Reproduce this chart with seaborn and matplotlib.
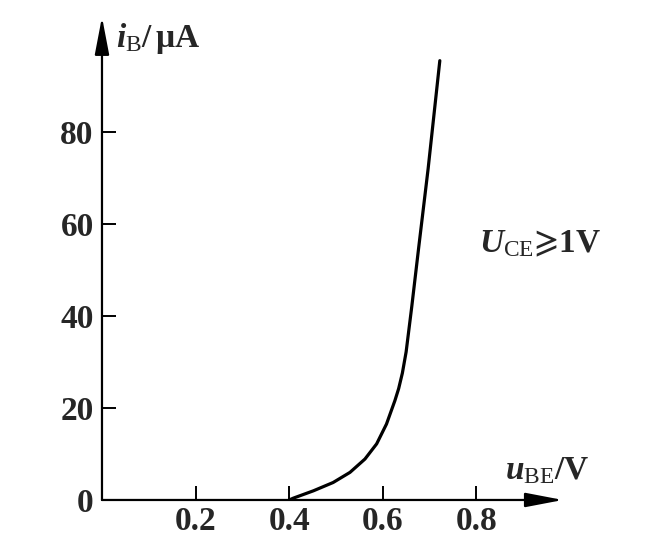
import matplotlib

matplotlib.use("Agg")
import matplotlib.pyplot as plt
import pandas as pd
import seaborn as sns

# input characteristic of the transistor
u_be = [0.400, 0.409, 0.452, 0.494, 0.530, 0.562, 0.587, 0.608, 0.626, 0.634, 0.642, 0.650, 0.662, 0.677, 0.697, 0.722]
i_b = [0, 0.4, 2.0, 3.8, 6.0, 8.9, 12.2, 16.5, 21.6, 24.2, 27.6, 32.2, 42, 55, 72, 95.5]

x_ticks = [0.2, 0.4, 0.6, 0.8]
x_tick_labels = ["0.2", "0.4", "0.6", "0.8"]
y_ticks = [0, 20, 40, 60, 80]
y_tick_labels = ["0", "20", "40", "60", "80"]

sns.set_theme(style="white")
plt.rcParams["font.family"] = ["Liberation Serif", "DejaVu Serif"]
plt.rcParams["mathtext.fontset"] = "custom"
plt.rcParams["mathtext.rm"] = "Liberation Serif"
plt.rcParams["mathtext.it"] = "Liberation Serif:italic:bold"
plt.rcParams["mathtext.bf"] = "Liberation Serif:bold"

df = pd.DataFrame({"u_be": u_be, "i_b": i_b})

fig = plt.figure(figsize=(6.67, 5.51), dpi=100)
ax = fig.add_axes([0.1529, 0.0926, 0.691, 0.8766])

sns.lineplot(data=df, x="u_be", y="i_b", color="black", linewidth=2.3, estimator=None, ax=ax)
ax.lines[0].set_solid_joinstyle("round")

ax.set_xlim(0, 0.985)
ax.set_ylim(0, 105)
for s in ax.spines.values():
    s.set_visible(False)

# axes drawn as arrows
arrow = dict(arrowstyle="-|>,head_length=1.15,head_width=0.22", lw=1.6, color="black",
             shrinkA=0, shrinkB=0, mutation_scale=20)
ax.annotate("", xy=(1, 0), xytext=(0, 0), xycoords="axes fraction", arrowprops=arrow)
ax.annotate("", xy=(0, 1), xytext=(0, 0), xycoords="axes fraction", arrowprops=arrow)

ax.set_xticks(x_ticks)
ax.set_xticklabels(x_tick_labels, fontsize=24, fontweight="bold")
ax.set_yticks(y_ticks)
ax.set_yticklabels(y_tick_labels, fontsize=24, fontweight="bold")
ax.tick_params(axis="x", bottom=True, direction="in", length=10, width=1.4, pad=4, color="black")
ax.tick_params(axis="y", left=True, direction="in", length=10, width=1.4, pad=6, color="black")
ax.set_xlabel("")
ax.set_ylabel("")

ax.text(0.03, 0.955, r"$\mathit{i}_{\mathrm{B}}\mathbf{/\,μA}$", transform=ax.transAxes,
        fontsize=24, ha="left", va="center")
ax.text(0.965, 0.06, r"$\mathit{u}_{\mathrm{BE}}\mathbf{/V}$", transform=ax.transAxes,
        fontsize=24, ha="center", va="center")
ax.text(0.95, 0.53, r"$\mathit{U}_{\mathrm{CE}}\mathbf{⩾1V}$", transform=ax.transAxes,
        fontsize=24, ha="center", va="center")

fig.savefig("out.png", dpi=100)
